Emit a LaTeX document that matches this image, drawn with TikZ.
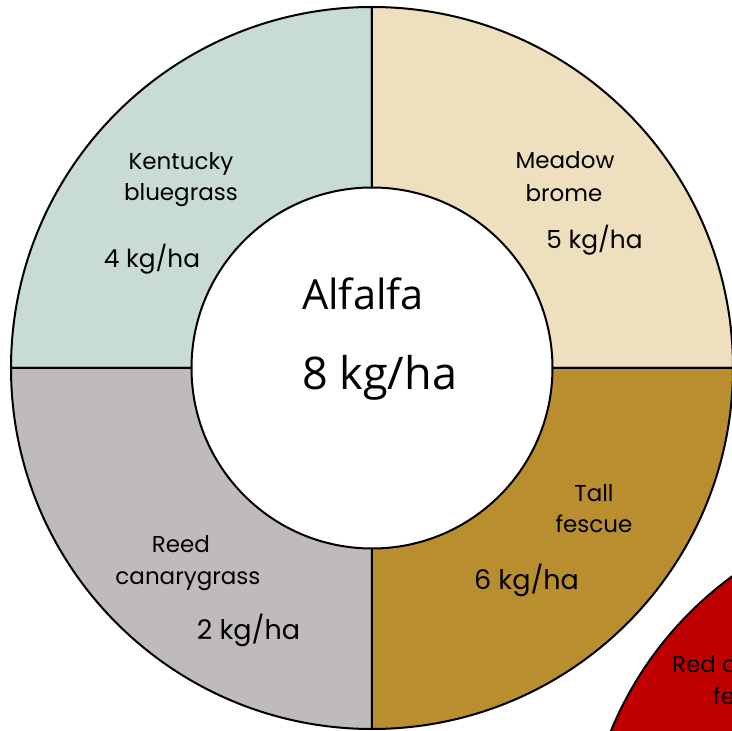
\documentclass[tikz,border=0pt]{standalone}
\usepackage{fontspec}
\setmainfont{Poppins}
\newfontfamily\ctrfont{Open Sans}
\definecolor{kbcol}{HTML}{C8DBD7}
\definecolor{mbcol}{HTML}{EEDFBE}
\definecolor{tfcol}{HTML}{B98E2F}
\definecolor{rccol}{HTML}{C0BBBB}
\definecolor{redcol}{HTML}{C00000}
\begin{document}
\begin{tikzpicture}[x=1pt,y=1pt,
  sector/.style={draw=black,line width=2pt,line join=round},
  lbl/.style={inner sep=0pt,anchor=base,font=\fontsize{23}{27}\selectfont},
  lblr/.style={inner sep=0pt,anchor=base,font=\fontsize{24.8}{28}\selectfont},
  lblb/.style={inner sep=0pt,anchor=base,font=\fontsize{27}{30}\selectfont},
  ctr/.style={inner sep=0pt,anchor=base west,font=\ctrfont\fontsize{41.5}{48}\selectfont},
  ctrb/.style={inner sep=0pt,anchor=base west,font=\ctrfont\fontsize{45}{52}\selectfont}]
\useasboundingbox (-372,-363) rectangle (360,368);
\clip (-372,-363) rectangle (360,368);
\def\Ro{361}
\def\Ri{180.5}
% main donut
\draw[sector,fill=kbcol] (0,\Ri) -- (0,\Ro) arc[start angle=90,end angle=180,radius=\Ro] -- (-\Ri,0) arc[start angle=180,end angle=90,radius=\Ri] -- cycle;
\draw[sector,fill=mbcol] (\Ri,0) -- (\Ro,0) arc[start angle=0,end angle=90,radius=\Ro] -- (0,\Ri) arc[start angle=90,end angle=0,radius=\Ri] -- cycle;
\draw[sector,fill=tfcol] (0,-\Ri) -- (0,-\Ro) arc[start angle=270,end angle=360,radius=\Ro] -- (\Ri,0) arc[start angle=360,end angle=270,radius=\Ri] -- cycle;
\draw[sector,fill=rccol] (-\Ri,0) -- (-\Ro,0) arc[start angle=180,end angle=270,radius=\Ro] -- (0,-\Ri) arc[start angle=270,end angle=180,radius=\Ri] -- cycle;
% second donut (partly visible)
\begin{scope}[shift={(573,-500)}]
\draw[sector,fill=redcol] (0,\Ri) -- (0,\Ro) arc[start angle=90,end angle=180,radius=\Ro] -- (-\Ri,0) arc[start angle=180,end angle=90,radius=\Ri] -- cycle;
\end{scope}
% labels
\node[lbl] (kb1) at (-191,198) {Kentucky};
\node[lbl] (kb2) at (-191,167) {bluegrass};
\node[lblr] (kb3) at (-220,100) {4 kg/ha};
\node[lbl] (mb1) at (193,199) {Meadow};
\node[lbl] (mb2) at (192,166) {brome};
\node[lblr] (mb3) at (222.5,119) {5 kg/ha};
\node[lbl] (tf1) at (222,-134) {Tall};
\node[lbl] (tf2) at (222,-165) {fescue};
\node[lblb] (tf3) at (154.5,-222) {6 kg/ha};
\node[lbl] (rc1) at (-191,-185) {Reed};
\node[lbl] (rc2) at (-184,-217) {canarygrass};
\node[lblb] (rc3) at (-123.5,-271) {2 kg/ha};
\node[ctr] (al1) at (-70,58) {Alfalfa};
\node[ctrb] (al2) at (-70,-22) {8 kg/ha};
\node[lbl,anchor=base west] (rf1) at (300,-305) {Red creeping};
\node[lbl,anchor=base west] (rf2) at (341,-336) {fescue};
\end{tikzpicture}
\end{document}
